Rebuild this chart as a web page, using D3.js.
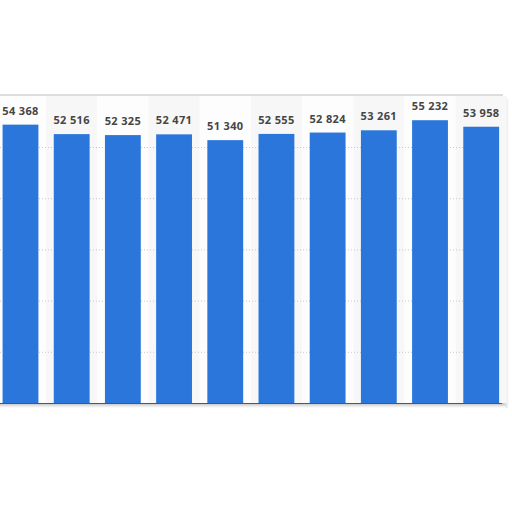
<!DOCTYPE html>
<html>
<head>
<meta charset="utf-8">
<script src="https://cdn.jsdelivr.net/npm/d3@7"></script>
<style>
  html, body { margin: 0; padding: 0; background: #fff; }
  svg { display: block; }
</style>
</head>
<body>
<div id="chart"></div>
<script>
// data (one bar per period, labels hidden off-canvas)
var categories = ["1", "2", "3", "4", "5", "6", "7", "8", "9", "10"];
var values = [54368, 52516, 52325, 52471, 51340, 52555, 52824, 53261, 55232, 53958];
var gridTicks = [10000, 20000, 30000, 40000, 50000];

var width = 512, height = 512;
var panel = {left: -12, right: 502, top: 95, bottom: 404};

var svg = d3.select('#chart')
	.append('svg')
	.attr('width', width)
	.attr('height', height);

var defs = svg.append('defs');
var sh = defs.append('linearGradient').attr('id', 'shadowR')
	.attr('x1', '0%').attr('x2', '100%');
sh.append('stop').attr('offset', '0%').attr('stop-color', '#bdbdbd');
sh.append('stop').attr('offset', '100%').attr('stop-color', '#ffffff');
var shB = defs.append('linearGradient').attr('id', 'shadowB')
	.attr('x1', '0%').attr('x2', '0%').attr('y1', '0%').attr('y2', '100%');
shB.append('stop').attr('offset', '0%').attr('stop-color', '#cfcfcf');
shB.append('stop').attr('offset', '100%').attr('stop-color', '#ffffff');

// panel shadow + box
svg.append('rect')
	.attr('x', panel.right)
	.attr('y', panel.top + 4)
	.attr('width', 7)
	.attr('height', panel.bottom - panel.top)
	.attr('fill', 'url(#shadowR)');
svg.append('rect')
	.attr('x', panel.left)
	.attr('y', panel.bottom)
	.attr('width', panel.right - panel.left + 4)
	.attr('height', 4)
	.attr('fill', 'url(#shadowB)');
svg.append('rect')
	.attr('x', panel.left)
	.attr('y', panel.top)
	.attr('width', panel.right - panel.left)
	.attr('height', panel.bottom - panel.top)
	.attr('fill', '#fdfdfd')
	.attr('stroke', '#cfcfcf')
	.attr('stroke-width', 1.4);

var x = d3.scaleBand()
	.domain(categories)
	.range([-5.1, 506.8])
	.paddingInner(0.3)
	.paddingOuter(0.15);

var y = d3.scaleLinear()
	.domain([0, 60000])
	.range([403, 95.8]);

// alternating column bands
svg.append('g').selectAll('rect.band')
	.data(categories)
	.enter()
	.append('rect')
	.attr('class', 'band')
	.attr('x', function(d){ return x(d) - x.step() * x.paddingInner() / 2; })
	.attr('y', panel.top + 1)
	.attr('width', x.step())
	.attr('height', panel.bottom - panel.top - 2)
	.attr('fill', function(d, i){ return i % 2 ? '#f7f7f7' : '#fdfdfd'; });

// dotted gridlines
svg.append('g')
	.attr('class', 'grid')
	.call(d3.axisLeft(y).tickValues(gridTicks).tickSize(-(panel.right - 4)).tickFormat(''))
	.call(function(g){
		g.select('.domain').remove();
		g.selectAll('line')
			.attr('stroke', '#c8c8c8')
			.attr('stroke-dasharray', '1,2');
	});

// bars
svg.selectAll('rect.bars')
	.data(values)
	.enter()
	.append('rect')
	.attr('class', 'bars')
	.attr('x', function(d, i){ return x(categories[i]); })
	.attr('y', function(d){ return y(d); })
	.attr('width', x.bandwidth())
	.attr('height', function(d){ return y(0) - y(d); })
	.attr('fill', '#2a76db');

// axis baseline
svg.append('line')
	.attr('x1', panel.left)
	.attr('x2', panel.right)
	.attr('y1', y(0) + 0.5)
	.attr('y2', y(0) + 0.5)
	.attr('stroke', '#4d5866')
	.attr('stroke-width', 1.2);

// value labels
var fmt = d3.formatLocale({decimal: ',', thousands: '\u00a0', grouping: [3], currency: ['', '']}).format(',d');
svg.selectAll('text.lbl')
	.data(values)
	.enter()
	.append('text')
	.attr('class', 'lbl')
	.attr('x', function(d, i){ return x(categories[i]) + x.bandwidth() / 2; })
	.attr('y', function(d){ return y(d) - 10; })
	.attr('text-anchor', 'middle')
	.attr('font-family', '"Open Sans", sans-serif')
	.attr('font-weight', 700)
	.attr('font-size', '11px')
	.attr('letter-spacing', '0.35px')
	.attr('fill', '#454545')
	.text(function(d){ return fmt(d); });
</script>
</body>
</html>
